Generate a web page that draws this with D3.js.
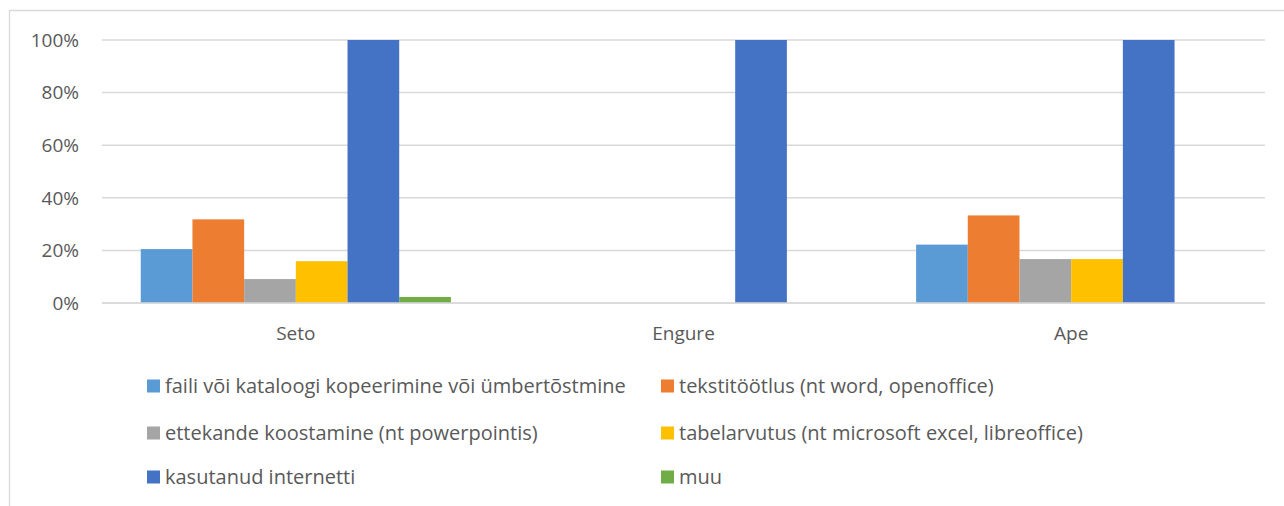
<!DOCTYPE html>
<html>
<head>
<meta charset="utf-8">
<title>Arvutikasutus</title>
<script src="https://d3js.org/d3.v7.min.js"></script>
<style>
  body { margin: 0; background: #fff; }
  svg text { font-family: "Open Sans", "Noto Sans", sans-serif; fill: #595959; }
</style>
</head>
<body>
<svg id="chart" width="1284" height="506"></svg>
<script>
// data
var categories = ['Seto', 'Engure', 'Ape'];
var seriesNames = [
  'faili või kataloogi kopeerimine või ümbertõstmine',
  'tekstitöötlus (nt word, openoffice)',
  'ettekande koostamine (nt powerpointis)',
  'tabelarvutus (nt microsoft excel, libreoffice)',
  'kasutanud internetti',
  'muu'
];
var seto   = [0.205, 0.318, 0.091, 0.159, 1.0, 0.023];
var engure = [0, 0, 0, 0, 1.0, 0];
var ape    = [0.222, 0.333, 0.167, 0.167, 1.0, 0];
var yTicks = [0, 0.2, 0.4, 0.6, 0.8, 1.0];

var colors = ['#5B9BD5', '#ED7D31', '#A5A5A5', '#FFC000', '#4472C4', '#70AD47'];
var values = [seto, engure, ape];

var svg = d3.select('#chart');

// chart frame (cut at right/bottom like the source)
svg.append('path')
  .attr('d', 'M9.5,506 V10.5 H1284')
  .attr('fill', 'none')
  .attr('stroke', '#D9D9D9')
  .attr('stroke-width', 1.3);

var plotL = 102, plotR = 1265, plotT = 40, plotB = 303;

var x0 = d3.scaleBand().domain(categories).range([plotL, plotR]);
// gap width 150% -> inner group takes 6/7.5 of the band
var groupW = x0.bandwidth() * 6 / 7.5;
var x1 = d3.scaleBand().domain(d3.range(seriesNames.length)).range([0, groupW]);
var y = d3.scaleLinear().domain([0, 1]).range([plotB, plotT]);

// gridlines
svg.append('g').selectAll('line')
  .data(yTicks)
  .join('line')
  .attr('x1', plotL).attr('x2', plotR)
  .attr('y1', function(d) { return y(d); })
  .attr('y2', function(d) { return y(d); })
  .attr('stroke', '#D9D9D9')
  .attr('stroke-width', 1.5);

// y labels
svg.append('g').selectAll('text')
  .data(yTicks)
  .join('text')
  .attr('x', 79)
  .attr('y', function(d) { return y(d); })
  .attr('dy', '0.36em')
  .attr('text-anchor', 'end')
  .style('font-size', '19px')
  .text(function(d) { return d3.format('.0%')(d); });

// bars
var groups = svg.append('g').selectAll('g')
  .data(categories)
  .join('g')
  .attr('transform', function(d) {
    return 'translate(' + (x0(d) + (x0.bandwidth() - groupW) / 2) + ',0)';
  });

groups.selectAll('rect')
  .data(function(d, i) { return values[i].map(function(v, j) { return {v: v, j: j}; }); })
  .join('rect')
  .attr('x', function(d) { return x1(d.j); })
  .attr('width', x1.bandwidth())
  .attr('y', function(d) { return y(d.v); })
  .attr('height', function(d) { return plotB - y(d.v); })
  .attr('fill', function(d) { return colors[d.j]; });

// redraw baseline on top
svg.append('line')
  .attr('x1', plotL).attr('x2', plotR)
  .attr('y1', y(0)).attr('y2', y(0))
  .attr('stroke', '#D9D9D9')
  .attr('stroke-width', 1.5);

// category labels
svg.append('g').selectAll('text')
  .data(categories)
  .join('text')
  .attr('x', function(d) { return x0(d) + x0.bandwidth() / 2; })
  .attr('y', 333)
  .attr('dy', '0.36em')
  .attr('text-anchor', 'middle')
  .style('font-size', '19px')
  .text(function(d) { return d; });

// legend, two columns
var legendX = [147, 661], legendY = [386, 433, 477];
var legend = svg.append('g').selectAll('g')
  .data(seriesNames)
  .join('g')
  .attr('transform', function(d, i) {
    return 'translate(' + legendX[i % 2] + ',' + legendY[Math.floor(i / 2)] + ')';
  });

legend.append('rect')
  .attr('x', 0).attr('y', -6.5)
  .attr('width', 13).attr('height', 13)
  .attr('fill', function(d, i) { return colors[i]; });

legend.append('text')
  .attr('x', 18)
  .attr('dy', '0.36em')
  .style('font-size', '20px')
  .text(function(d) { return d; });
</script>
</body>
</html>
